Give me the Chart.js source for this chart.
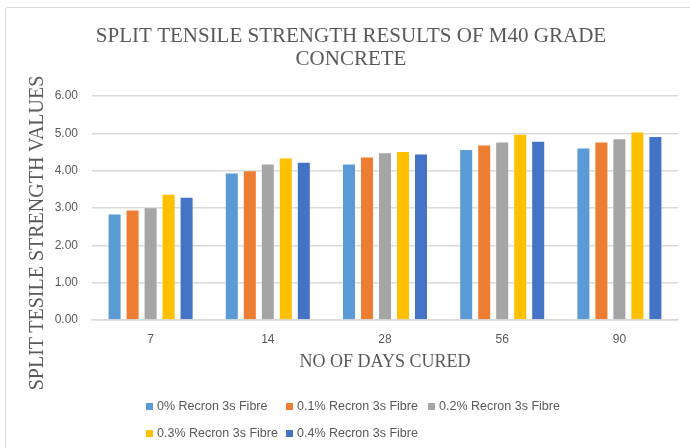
<!DOCTYPE html>
<html>
<head>
<meta charset="utf-8">
<script src="https://cdn.jsdelivr.net/npm/chart.js@4"></script>
<style>
    body { margin: 0; background: #fff; }
    #wrap { position: relative; width: 690px; height: 448px; overflow: hidden; }
    #frame { position: absolute; left: 5px; top: 7px; width: 720px; height: 480px; border: 1px solid #d9d9d9; border-radius: 3px; }
    #ytitle { position: absolute; left: 36px; top: 233px; transform: translate(-50%, -50%) rotate(-90deg);
              font-family: "Liberation Serif", "Times New Roman", serif; font-size: 20px; color: #595959; white-space: nowrap; }
    #legend { position: absolute; left: 146px; top: 398px; display: grid; grid-template-columns: 140px 142px auto; row-gap: 11px;
              font-family: "Liberation Sans", Arial, sans-serif; font-size: 12.5px; color: #595959; }
    .item { display: flex; align-items: center; white-space: nowrap; height: 16px; }
    .box { width: 7px; height: 7px; margin-right: 4px; }
</style>
</head>
<body>
<div id="wrap">
    <div id="frame"></div>
    <canvas id="chart" width="690" height="448"></canvas>
    <div id="ytitle">SPLIT TESILE STRENGTH VALUES</div>
    <div id="legend"></div>
</div>
<script>
// Valores
const days = ['7', '14', '28', '56', '90'];
const seriesNames = ['0% Recron 3s Fibre', '0.1% Recron 3s Fibre', '0.2% Recron 3s Fibre', '0.3% Recron 3s Fibre', '0.4% Recron 3s Fibre'];
const fibre0 = [2.85, 3.95, 4.19, 4.58, 4.62];
const fibre01 = [2.96, 4.01, 4.38, 4.70, 4.78];
const fibre02 = [3.02, 4.19, 4.49, 4.78, 4.87];
const fibre03 = [3.38, 4.35, 4.53, 4.99, 5.05];
const fibre04 = [3.30, 4.24, 4.46, 4.80, 4.93];
const colors = ['#5b9bd5', '#ed7d31', '#a5a5a5', '#ffc000', '#4472c4'];

const seriesValues = [fibre0, fibre01, fibre02, fibre03, fibre04];
const grey = '#595959';

const datasets = seriesValues.map((vals, i) => ({
    label: seriesNames[i],
    data: vals,
    backgroundColor: colors[i],
    borderColor: 'rgba(255,255,255,0.35)',
    borderWidth: 1,
    categoryPercentage: 0.768,
    barPercentage: 0.78
}));

const ctx = document.getElementById('chart').getContext('2d');
new Chart(ctx, {
    type: 'bar',
    data: { labels: days, datasets: datasets },
    options: {
        responsive: false,
        animation: false,
        layout: { padding: { left: 24, right: 12, top: 0, bottom: 75 } },
        plugins: {
            legend: { display: false },
            tooltip: { enabled: false },
            title: {
                display: true,
                text: ['SPLIT TENSILE STRENGTH RESULTS OF M40 GRADE', 'CONCRETE'],
                color: grey,
                font: { family: '"Liberation Serif", "Times New Roman", serif', size: 21, weight: 'normal', lineHeight: 23 / 21 },
                padding: { top: 24.5, bottom: 25.5 }
            }
        },
        scales: {
            x: {
                grid: { display: false, drawTicks: false },
                border: { color: '#d9d9d9', width: 1.5 },
                ticks: { color: grey, padding: 12, font: { family: '"Liberation Sans", Arial, sans-serif', size: 12 } },
                title: {
                    display: true,
                    text: 'NO OF DAYS CURED',
                    color: grey,
                    font: { family: '"Liberation Serif", "Times New Roman", serif', size: 18 },
                    padding: { top: -7, bottom: 0 }
                }
            },
            y: {
                min: 0,
                max: 6,
                afterFit: (scale) => { scale.width = 68; },
                grid: { color: '#d9d9d9', lineWidth: 1.5, drawTicks: false },
                border: { display: false },
                ticks: {
                    stepSize: 1,
                    color: grey,
                    padding: 14,
                    font: { family: '"Liberation Sans", Arial, sans-serif', size: 12 },
                    callback: (v) => Number(v).toFixed(2)
                }
            }
        }
    }
});

// Leyenda en HTML (columnas como en Excel)
const legendDiv = document.getElementById('legend');
seriesNames.forEach((name, i) => {
    const item = document.createElement('div');
    item.className = 'item';
    item.innerHTML = `<span class="box" style="background:${colors[i]}"></span>${name}`;
    legendDiv.appendChild(item);
});
</script>
</body>
</html>
